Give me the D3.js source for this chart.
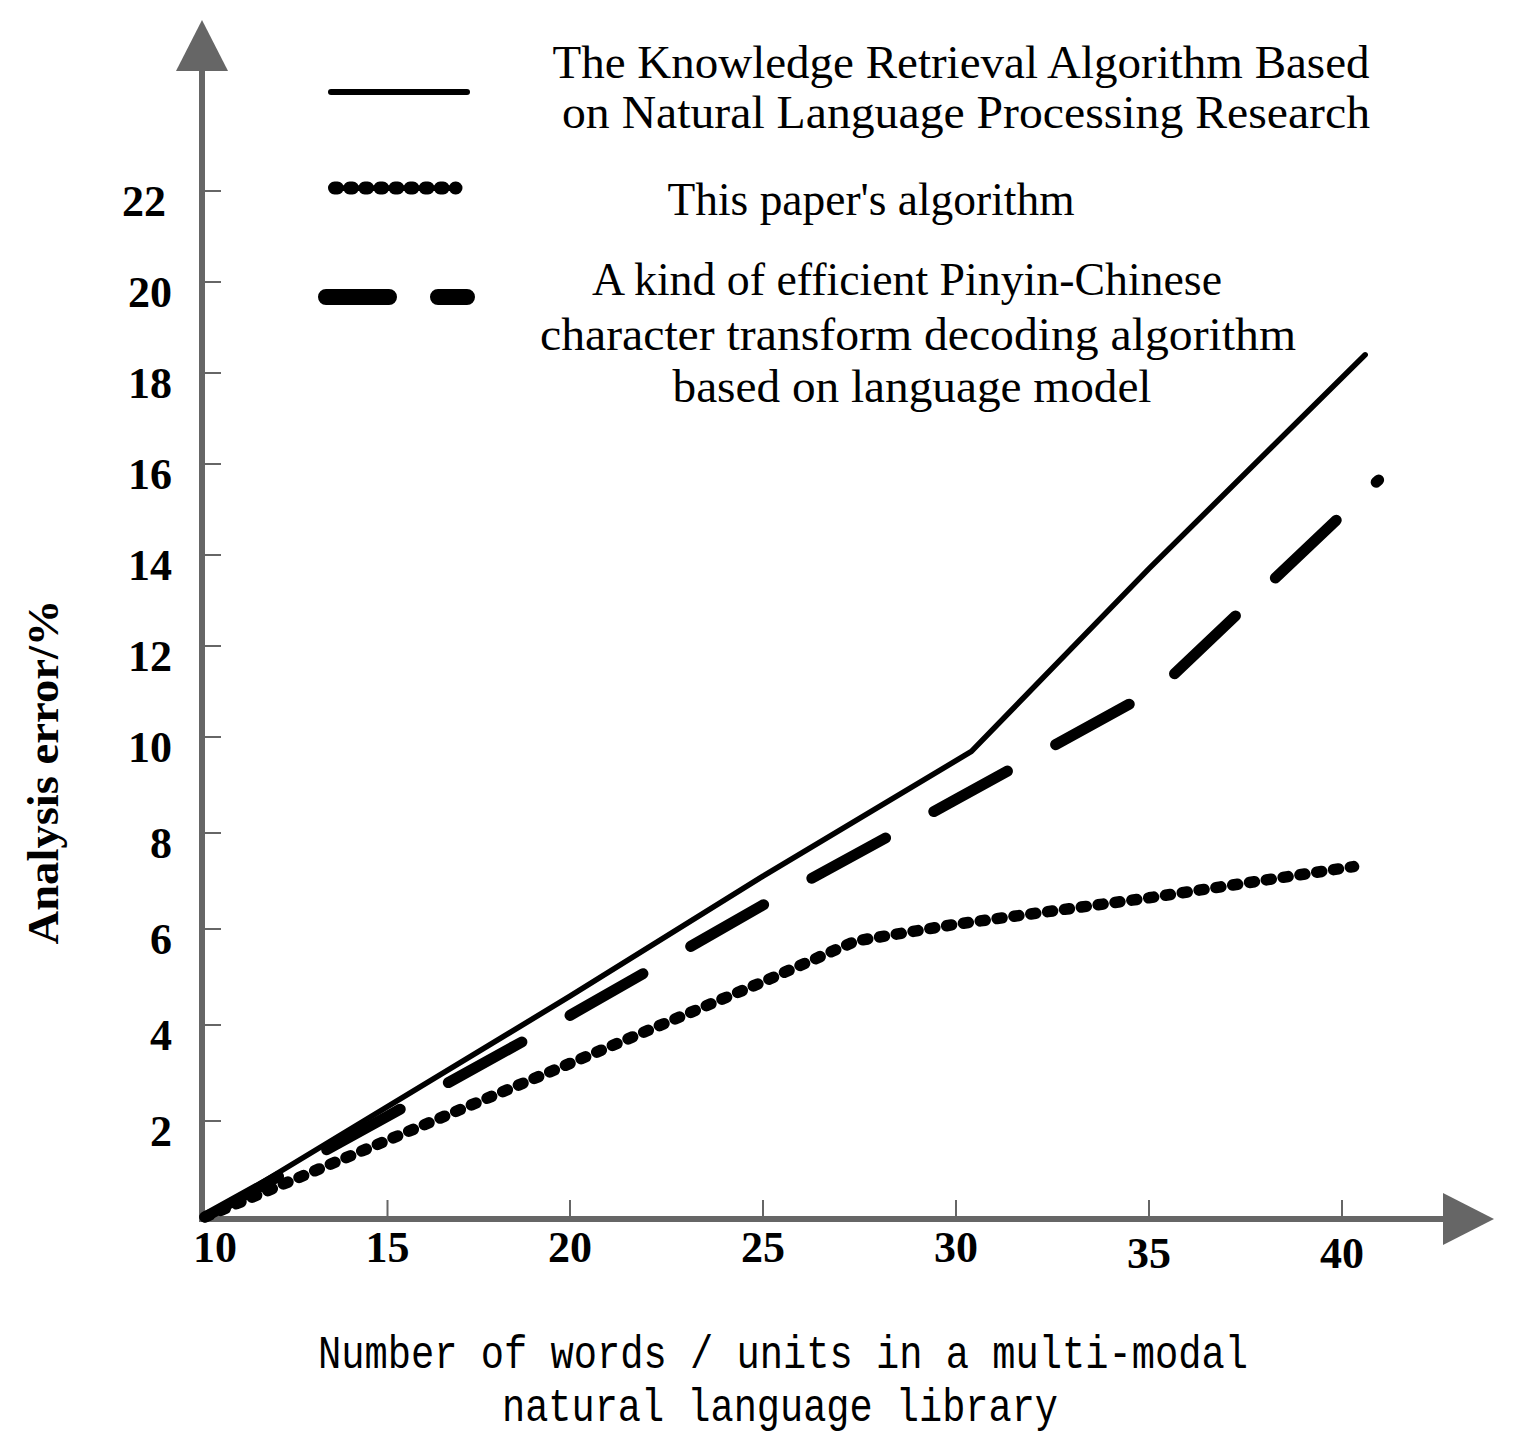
<!DOCTYPE html>
<html lang="en">
<head>
  <meta charset="UTF-8">
  <title>Analysis error vs number of words</title>
  <script src="https://d3js.org/d3.v7.min.js"></script>
  <style>
    body { margin: 0; background: #fff; }
    svg { display: block; }
  </style>
</head>
<body>
  <div id="chart"></div>
  <script>
    // values
    const xTickValues = [15, 20, 25, 30, 35, 40];
    const xLabelValues = [10, 15, 20, 25, 30, 35, 40];
    const yTickValues = [2, 4, 6, 8, 10, 12, 14, 16, 18, 20, 22];

    const seriesNames = [
      ["The Knowledge Retrieval Algorithm Based", "on Natural Language Processing Research"],
      ["This paper's algorithm"],
      ["A kind of efficient Pinyin-Chinese", "character transform decoding algorithm", "based on language model"]
    ];

    const knowledgeX = [10, 15, 20, 25, 30.4, 35, 40.6];
    const knowledgeY = [0, 2.3, 4.6, 7.1, 9.7, 13.7, 18.4];

    const paperX = [10, 15, 20, 25, 27.4, 30, 35, 40.3];
    const paperY = [0, 1.6, 3.2, 4.9, 5.75, 6.1, 6.65, 7.3];

    const pinyinX = [10, 15, 20, 25, 30, 35.3, 40.95];
    const pinyinY = [0, 2.1, 4.2, 6.5, 8.7, 11.1, 15.65];

    const xTitle = ["Number of words / units in a multi-modal", "natural language library"];
    const yTitle = "Analysis error/%";

    const width = 1525, height = 1451;
    const axisColor = "#666";
    const serif = "'Liberation Serif', 'Times New Roman', serif";

    const svg = d3.select("#chart").append("svg")
      .attr("width", width)
      .attr("height", height);

    svg.append("rect").attr("width", width).attr("height", height).attr("fill", "#fff");

    // the axes in the picture are not quite evenly spaced, so piecewise scales
    const x = d3.scaleLinear().domain([10, 20, 40]).range([205, 570, 1342]);
    const y = d3.scaleLinear().domain([0, 10, 22]).range([1217, 737, 191]);

    const x0 = 202, y0 = 1219;

    // axes with arrow heads
    svg.append("line")
      .attr("x1", x0).attr("y1", y0 + 3).attr("x2", x0).attr("y2", 68)
      .attr("stroke", axisColor).attr("stroke-width", 6);
    svg.append("path")
      .attr("d", `M${x0},20 L${x0 - 26},71 L${x0 + 26},71 Z`)
      .attr("fill", axisColor);

    svg.append("line")
      .attr("x1", x0 - 3).attr("y1", y0).attr("x2", 1446).attr("y2", y0)
      .attr("stroke", axisColor).attr("stroke-width", 6);
    svg.append("path")
      .attr("d", `M1494,${y0} L1443,${y0 - 26} L1443,${y0 + 26} Z`)
      .attr("fill", axisColor);

    // y ticks point into the plot
    svg.selectAll(".ytick")
      .data(yTickValues)
      .enter()
      .append("line")
      .attr("x1", x0).attr("x2", x0 + 19)
      .attr("y1", d => y(d)).attr("y2", d => y(d))
      .attr("stroke", axisColor).attr("stroke-width", 2);

    svg.selectAll(".ylabel")
      .data(yTickValues)
      .enter()
      .append("text")
      .attr("x", d => d === 22 ? 166 : 172)
      .attr("y", d => y(d) + 25)
      .attr("text-anchor", "end")
      .style("font-family", serif)
      .style("font-weight", "bold")
      .style("font-size", "44px")
      .text(d => d);

    // x ticks point up
    svg.selectAll(".xtick")
      .data(xTickValues)
      .enter()
      .append("line")
      .attr("x1", d => x(d)).attr("x2", d => x(d))
      .attr("y1", y0).attr("y2", y0 - 19)
      .attr("stroke", axisColor).attr("stroke-width", 2);

    svg.selectAll(".xlabel")
      .data(xLabelValues)
      .enter()
      .append("text")
      .attr("x", d => d === 10 ? x(d) + 10 : x(d))
      .attr("y", d => d >= 35 ? 1268 : 1262)
      .attr("text-anchor", "middle")
      .style("font-family", serif)
      .style("font-weight", "bold")
      .style("font-size", "44px")
      .text(d => d);

    // axis titles
    svg.append("text")
      .attr("transform", "translate(58,772) rotate(-90)")
      .attr("text-anchor", "middle")
      .attr("textLength", 345)
      .attr("lengthAdjust", "spacingAndGlyphs")
      .style("font-family", serif)
      .style("font-weight", "bold")
      .style("font-size", "44px")
      .text(yTitle);

    const xTitlePos = [[783, 1368, 930], [780, 1421, 556]];
    svg.selectAll(".xtitle")
      .data(xTitle)
      .enter()
      .append("text")
      .attr("x", (d, i) => xTitlePos[i][0])
      .attr("y", (d, i) => xTitlePos[i][1])
      .attr("textLength", (d, i) => xTitlePos[i][2])
      .attr("lengthAdjust", "spacingAndGlyphs")
      .attr("text-anchor", "middle")
      .style("font-family", "'Liberation Mono', 'DejaVu Sans Mono', monospace")
      .style("font-size", "47px")
      .text(d => d);

    // series
    const line = d3.line().x(d => x(d[0])).y(d => y(d[1]));

    const series = [
      { xs: knowledgeX, ys: knowledgeY, w: 5.5, dash: null },
      { xs: paperX, ys: paperY, w: 11.5, dash: "5 12" },
      { xs: pinyinX, ys: pinyinY, w: 11, dash: "84 55" }
    ];

    svg.selectAll(".series")
      .data(series)
      .enter()
      .append("path")
      .attr("d", s => line(d3.zip(s.xs, s.ys)))
      .attr("fill", "none")
      .attr("stroke", "#000")
      .attr("stroke-width", s => s.w)
      .attr("stroke-linecap", "round")
      .attr("stroke-linejoin", "round")
      .attr("stroke-dasharray", s => s.dash);

    // legend
    svg.append("line")
      .attr("x1", 331).attr("x2", 467).attr("y1", 92).attr("y2", 92)
      .attr("stroke", "#000").attr("stroke-width", 6).attr("stroke-linecap", "round");
    svg.append("line")
      .attr("x1", 334.5).attr("x2", 456).attr("y1", 188).attr("y2", 188)
      .attr("stroke", "#000").attr("stroke-width", 13).attr("stroke-linecap", "round")
      .attr("stroke-dasharray", "3 12.1");
    svg.append("line")
      .attr("x1", 326).attr("x2", 467).attr("y1", 297).attr("y2", 297)
      .attr("stroke", "#000").attr("stroke-width", 16).attr("stroke-linecap", "round")
      .attr("stroke-dasharray", "63 49");

    const legendPos = [
      [[961, 78, 817], [966, 128, 808]],
      [[871, 215, 407]],
      [[907, 295, 630], [918, 350, 756], [912, 402, 479]]
    ];
    seriesNames.forEach((lines, i) => {
      svg.selectAll(".leg" + i)
        .data(lines)
        .enter()
        .append("text")
        .attr("x", (d, j) => legendPos[i][j][0])
        .attr("y", (d, j) => legendPos[i][j][1])
        .attr("textLength", (d, j) => legendPos[i][j][2])
        .attr("lengthAdjust", "spacingAndGlyphs")
        .attr("text-anchor", "middle")
        .style("font-family", serif)
        .style("font-size", "47px")
        .text(d => d);
    });
  </script>
</body>
</html>
